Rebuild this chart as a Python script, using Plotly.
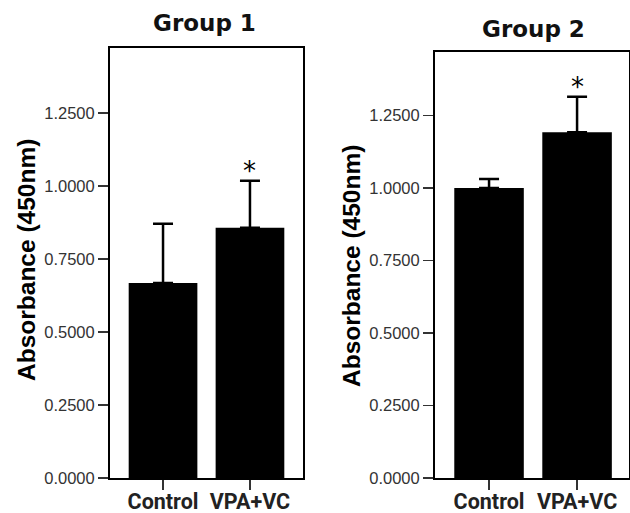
import plotly.graph_objects as go

categories = ["Control", "VPA+VC"]
group1_mean = [0.668, 0.857]
group1_err = [0.203, 0.161]
group2_mean = [1.000, 1.192]
group2_err = [0.031, 0.123]
titles = ["Group 1", "Group 2"]
y_title = "Absorbance (450nm)"
y_ticks = [0, 0.25, 0.5, 0.75, 1.0, 1.25]
star = "*"

W, H = 630, 513

fig = go.Figure()

for i, (m, e) in enumerate([(group1_mean, group1_err), (group2_mean, group2_err)]):
    xa = "x" if i == 0 else "x2"
    ya = "y" if i == 0 else "y2"
    fig.add_trace(go.Bar(
        x=categories, y=m, xaxis=xa, yaxis=ya, width=0.79,
        marker=dict(color="black", line=dict(width=0)),
        error_y=dict(type="data", array=e, arrayminus=[0, 0], symmetric=False,
                     color="black", thickness=2.5, width=10),
        showlegend=False,
    ))
    fig.add_annotation(x=categories[1], y=m[1] + e[1], xref=xa, yref=ya,
                       text=star, showarrow=False, yanchor="middle", yshift=10,
                       font=dict(family="DejaVu Sans", size=26, color="black"))

# panel geometry (pixels)
p1 = dict(l=110, r=303, t=48, b=478)
p2 = dict(l=435, r=629, t=52, b=478)

def xdom(p):
    return [p["l"] / W, p["r"] / W]

def ydom(p):
    return [(H - p["b"]) / H, (H - p["t"]) / H]

axis_common_x = dict(
    showline=True, linecolor="black", linewidth=2, mirror=True,
    ticks="outside", ticklen=10, tickwidth=1.5, tickcolor="#333",
    showgrid=False, zeroline=False, range=[-0.61, 1.61],
    ticklabelstandoff=-7, automargin=False,
    tickfont=dict(family="Roboto", size=21.5, color="#222", weight="bold"),
    fixedrange=True,
)
axis_common_y = dict(
    showline=True, linecolor="black", linewidth=2, mirror=True,
    ticks="outside", ticklen=10, tickwidth=1.5, tickcolor="#333",
    showgrid=False, zeroline=False, tickvals=y_ticks, tickformat=".4f",
    automargin=False,
    tickfont=dict(family="Liberation Sans", size=16.5, color="#333"),
    fixedrange=True,
)

fig.update_layout(
    width=W, height=H,
    margin=dict(l=0, r=0, t=0, b=0, autoexpand=False),
    paper_bgcolor="white", plot_bgcolor="white",
    bargap=0.2,
    xaxis=dict(domain=xdom(p1), anchor="y", **axis_common_x),
    yaxis=dict(domain=ydom(p1), anchor="x", range=[0, 430 / 292], **axis_common_y),
    xaxis2=dict(domain=xdom(p2), anchor="y2", **{**axis_common_x, "range": [-0.614, 1.59]}),
    yaxis2=dict(domain=ydom(p2), anchor="x2", range=[0, 426 / 290], **axis_common_y),
)

# titles
for t, cx, cy in [(titles[0], 204, 23.5), (titles[1], 533, 28.5)]:
    fig.add_annotation(x=cx / W, y=1 - cy / H, xref="paper", yref="paper",
                       text=t, showarrow=False, xanchor="center", yanchor="middle",
                       font=dict(family="DejaVu Sans", size=23, color="#111", weight="bold"))

# y axis titles
for cx, cy in [(26, 260), (351, 266)]:
    fig.add_annotation(x=cx / W, y=1 - cy / H, xref="paper", yref="paper",
                       text=y_title, showarrow=False, textangle=-90,
                       xanchor="center", yanchor="middle",
                       font=dict(family="Liberation Sans", size=24.5, color="black", weight="bold"))

post = ("document.body.style.margin='0';"
        "var d=document.getElementById('{plot_id}');"
        "d.style.position='absolute';d.style.left='0px';d.style.top='0px';")
fig.write_html("out.html", post_script=post, config={"displayModeBar": False, "staticPlot": True})
